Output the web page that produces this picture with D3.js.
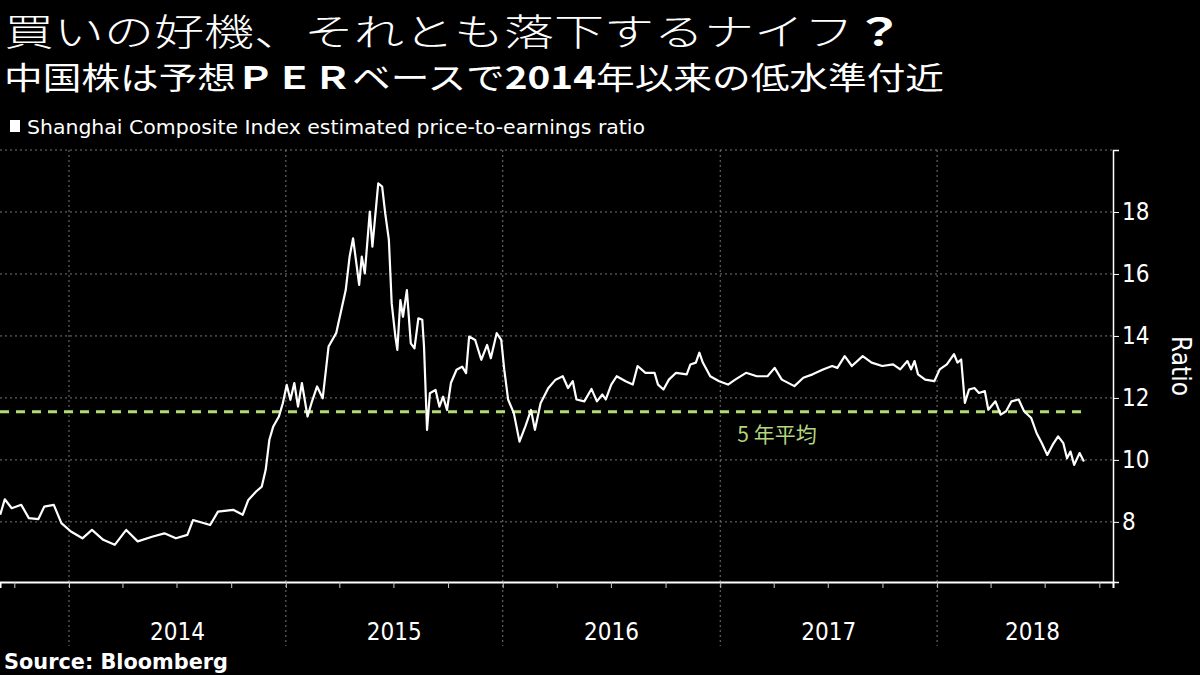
<!DOCTYPE html>
<html>
<head>
<meta charset="utf-8">
<script src="https://cdn.jsdelivr.net/npm/d3@7"></script>
<style>
  body { margin: 0; background: #000; }
  svg { display: block; }
</style>
</head>
<body>
<svg id="chart" width="1200" height="675"></svg>
<script>
// decimal year, estimated P/E ratio
var years = [2013.683,2013.704,2013.736,2013.78,2013.815,2013.859,2013.886,2013.93,2013.965,2014.009,2014.062,2014.106,2014.158,2014.211,2014.264,2014.317,2014.387,2014.44,2014.493,2014.546,2014.572,2014.651,2014.687,2014.757,2014.801,2014.827,2014.863,2014.889,2014.907,2014.924,2014.942,2014.968,2014.986,2015.004,2015.021,2015.039,2015.056,2015.074,2015.1,2015.118,2015.144,2015.17,2015.197,2015.232,2015.276,2015.294,2015.31,2015.338,2015.35,2015.364,2015.387,2015.399,2015.426,2015.444,2015.458,2015.475,2015.488,2015.505,2015.514,2015.528,2015.54,2015.558,2015.576,2015.593,2015.611,2015.629,2015.637,2015.651,2015.664,2015.69,2015.708,2015.725,2015.743,2015.761,2015.787,2015.813,2015.831,2015.845,2015.873,2015.901,2015.928,2015.945,2015.972,2015.993,2016.007,2016.025,2016.051,2016.077,2016.104,2016.13,2016.148,2016.174,2016.209,2016.243,2016.276,2016.3,2016.322,2016.339,2016.375,2016.408,2016.433,2016.458,2016.474,2016.499,2016.524,2016.565,2016.598,2016.62,2016.656,2016.698,2016.714,2016.739,2016.764,2016.797,2016.846,2016.863,2016.888,2016.904,2016.92,2016.954,2016.995,2017.036,2017.069,2017.119,2017.169,2017.218,2017.251,2017.284,2017.342,2017.383,2017.426,2017.474,2017.516,2017.54,2017.574,2017.607,2017.657,2017.698,2017.747,2017.797,2017.83,2017.863,2017.88,2017.896,2017.912,2017.945,2017.987,2018.012,2018.045,2018.078,2018.094,2018.111,2018.128,2018.147,2018.172,2018.193,2018.22,2018.236,2018.269,2018.293,2018.318,2018.343,2018.376,2018.401,2018.434,2018.459,2018.483,2018.508,2018.533,2018.558,2018.582,2018.599,2018.615,2018.632,2018.657,2018.677];
var ratios = [8.23,8.73,8.44,8.55,8.12,8.09,8.49,8.55,7.96,7.69,7.47,7.74,7.42,7.26,7.74,7.37,7.53,7.63,7.47,7.58,8.06,7.90,8.33,8.39,8.23,8.71,8.98,9.14,9.68,10.65,11.08,11.40,11.83,12.42,11.94,12.48,11.72,12.48,11.40,11.83,12.37,11.99,13.66,14.09,15.48,16.56,17.15,15.65,16.56,16.02,18.01,16.88,18.92,18.82,17.96,17.10,15.05,13.98,13.55,15.16,14.62,15.48,13.76,13.60,14.57,14.52,13.66,10.97,12.15,12.26,11.72,12.04,11.61,12.48,12.91,13.01,12.80,13.98,13.87,13.23,13.71,13.28,14.09,13.87,12.91,11.94,11.51,10.59,11.08,11.61,10.97,11.83,12.31,12.59,12.70,12.32,12.54,11.95,11.89,12.29,11.89,12.11,11.95,12.43,12.70,12.54,12.43,13.03,12.81,12.81,12.43,12.27,12.59,12.81,12.76,13.08,13.14,13.46,13.14,12.70,12.54,12.43,12.59,12.81,12.70,12.70,12.97,12.59,12.38,12.65,12.76,12.92,13.03,12.97,13.35,13.03,13.35,13.14,13.03,13.08,12.92,13.19,12.92,13.19,12.76,12.59,12.54,12.92,13.08,13.41,13.14,13.24,11.84,12.27,12.32,12.16,12.22,11.62,11.89,11.46,11.57,11.89,11.95,11.57,11.35,10.86,10.54,10.16,10.49,10.76,10.54,10.05,10.27,9.84,10.22,9.95];
var yearLabels = ["2014", "2015", "2016", "2017", "2018"];
var yTicks = [8, 10, 12, 14, 16, 18, 20];
var fiveYearAvg = 11.55;

function toDate(v) {
  var yr = Math.floor(v);
  var s = new Date(yr, 0, 1), e = new Date(yr + 1, 0, 1);
  return new Date(+s + (v - yr) * (e - s));
}

var svg = d3.select("#chart");
var pLeft = 0, pRight = 1113, pTop = 150, pBottom = 582;
var x = d3.scaleTime().domain([toDate(2013.682), toDate(2018.811)]).range([pLeft, pRight]);
var y = d3.scaleLinear().domain([20, 6.06]).range([pTop, pBottom]);

svg.append("rect").attr("width", 1200).attr("height", 675).attr("fill", "#000");

// titles
var t1 = svg.append("text").attr("x", 4).attr("y", 46).attr("fill", "#fff")
  .style("font-family", "Noto Sans CJK JP").style("font-size", "37px").style("font-weight", 300)
  .attr("textLength", 900).attr("lengthAdjust", "spacingAndGlyphs");
t1.append("tspan").text("買いの好機、それとも落下するナイフ");
t1.append("tspan").style("font-weight", "bold").text("？");
var sub = svg.append("text").attr("x", 4).attr("y", 89).attr("fill", "#fff")
  .style("font-family", "Noto Sans CJK JP").style("font-size", "31px")
  .attr("textLength", 940).attr("lengthAdjust", "spacingAndGlyphs");
sub.append("tspan").text("中国株は予想");
sub.append("tspan").style("font-weight", "bold").text("ＰＥＲ");
sub.append("tspan").text("ベースで");
sub.append("tspan").style("font-weight", "bold").text("2014");
sub.append("tspan").text("年以来の低水準付近");

// legend
svg.append("rect").attr("x", 10).attr("y", 120).attr("width", 10).attr("height", 12).attr("fill", "#fff");
svg.append("text").attr("x", 27).attr("y", 134).attr("fill", "#fff")
  .style("font-family", "DejaVu Sans Condensed").style("font-size", "20px")
  .attr("textLength", 618).attr("lengthAdjust", "spacingAndGlyphs")
  .text("Shanghai Composite Index estimated price-to-earnings ratio");

// grid
svg.append("g").selectAll("line").data(yTicks).join("line")
  .attr("x1", pLeft).attr("x2", pRight).attr("y1", d => y(d)).attr("y2", d => y(d))
  .attr("stroke", "#777").attr("stroke-width", 1).attr("stroke-dasharray", "2,3");
var yearStarts = yearLabels.map(d => new Date(+d, 0, 1));
svg.append("g").selectAll("line").data(yearStarts).join("line")
  .attr("x1", d => x(d)).attr("x2", d => x(d)).attr("y1", pTop).attr("y2", 646)
  .attr("stroke", "#777").attr("stroke-width", 1).attr("stroke-dasharray", "2,3");

// x axis
var xAxis = d3.axisBottom(x).ticks(d3.timeMonth.every(3)).tickSize(6).tickFormat("");
var gx = svg.append("g").attr("transform", "translate(0," + pBottom + ")").call(xAxis);
gx.select(".domain").attr("stroke", "#fff").attr("stroke-width", 2);
gx.selectAll(".tick line").attr("stroke", "#ccc");
svg.append("g").selectAll("text").data(yearLabels).join("text")
  .attr("x", d => (x(new Date(+d, 0, 1)) + Math.min(pRight + 15, x(new Date(+d + 1, 0, 1)))) / 2)
  .attr("y", 640).attr("text-anchor", "middle")
  .attr("fill", "#fff").style("font-family", "DejaVu Sans Condensed").style("font-size", "24px")
  .text(d => d);

// y axis
var yAxis = d3.axisRight(y).tickValues(yTicks).tickSize(6).tickFormat(d => d === 20 ? "" : d);
var gy = svg.append("g").attr("transform", "translate(" + pRight + ",0)").call(yAxis);
gy.select(".domain").attr("stroke", "#fff").attr("stroke-width", 1.5);
gy.selectAll(".tick line").attr("stroke", "#fff");
gy.selectAll(".tick text").attr("fill", "#fff").attr("x", 9)
  .style("font-family", "DejaVu Sans Condensed").style("font-size", "24px");
svg.append("text").attr("transform", "translate(1172,366) rotate(90)").attr("text-anchor", "middle")
  .attr("fill", "#fff").style("font-family", "DejaVu Sans Condensed").style("font-size", "26px")
  .text("Ratio");

// five-year average
svg.append("line").attr("x1", pLeft).attr("x2", 1085)
  .attr("y1", y(fiveYearAvg)).attr("y2", y(fiveYearAvg))
  .attr("stroke", "#b3dd73").attr("stroke-width", 3).attr("stroke-dasharray", "9,7");
svg.append("text").attr("x", 777).attr("y", 442).attr("text-anchor", "middle")
  .attr("fill", "#b3d67e").style("font-family", "Noto Sans CJK JP").style("font-size", "21px")
  .text("5 年平均");

// series
var pts = years.map((d, i) => [toDate(d), ratios[i]]);
svg.append("path").datum(pts)
  .attr("d", d3.line().x(d => x(d[0])).y(d => y(d[1])))
  .attr("fill", "none").attr("stroke", "#fff").attr("stroke-width", 2.2).attr("stroke-linejoin", "round");

// source
svg.append("text").attr("x", 4).attr("y", 669).attr("fill", "#fff")
  .style("font-family", "DejaVu Sans Condensed").style("font-weight", "bold").style("font-size", "22px")
  .attr("textLength", 224).attr("lengthAdjust", "spacingAndGlyphs")
  .text("Source:  Bloomberg");
</script>
</body>
</html>
